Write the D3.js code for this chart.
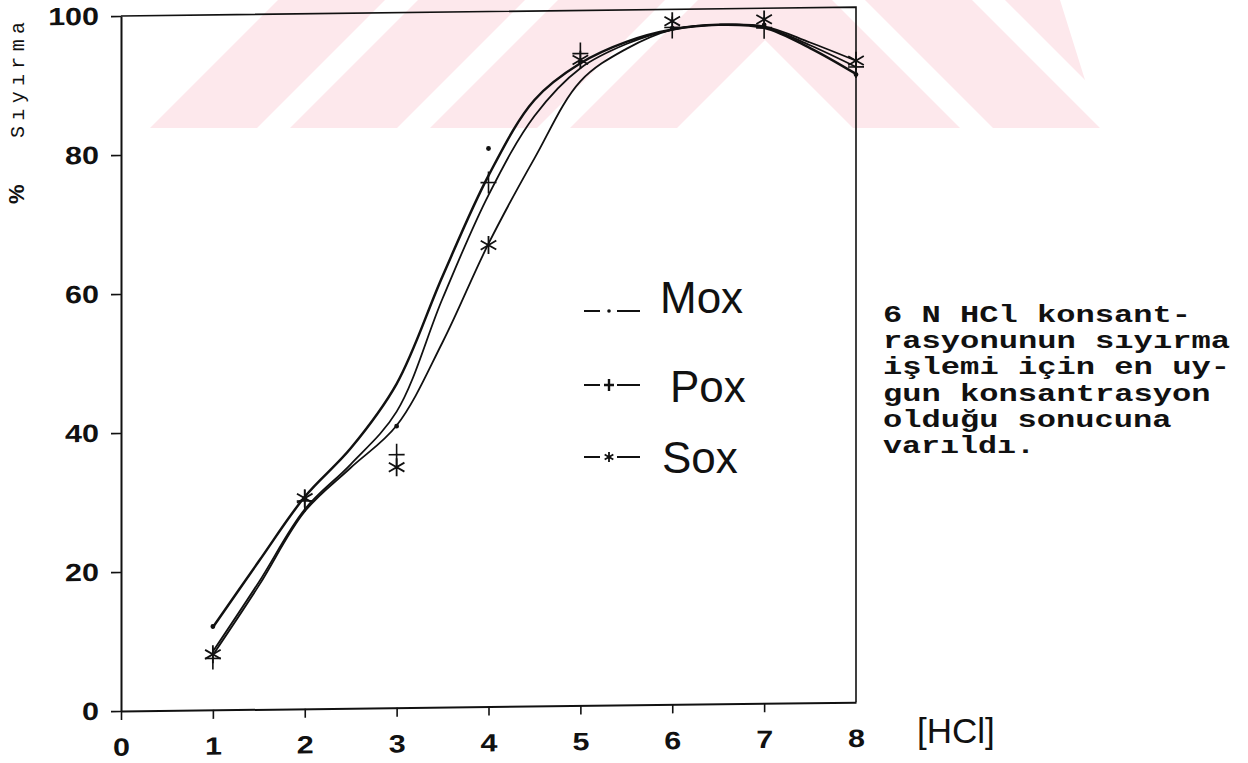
<!DOCTYPE html>
<html>
<head>
<meta charset="utf-8">
<script src="https://cdn.jsdelivr.net/npm/d3@7"></script>
<style>
  body { margin: 0; background: #ffffff; }
  svg { display: block; }
</style>
</head>
<body>
<svg id="chart" width="1248" height="763"></svg>
<script>
// HCl concentration (N) at which stripping was measured
const hclConc = [1, 2, 3, 4, 5, 6, 7, 8];
// % stripping, measured points
const moxPoints = [12.0, 30.2, 40.5, 80.3, 92.6, 97.3, 97.6, 90.3];
const poxPoints = [7.4, 29.9, 36.4, 75.4, 93.8, 97.4, 97.2, 91.4];
const soxPoints = [8.0, 30.3, 34.6, 66.4, 92.9, 98.3, 98.4, 92.3];
// hand-smoothed trend curves
const fitX   = [1, 1.5, 2, 2.5, 3, 3.5, 4, 4.5, 5, 5.5, 6, 6.5, 7, 7.5, 8];
const moxFit = [11.9, 21.3, 30.5, 37.4, 46.6, 62.0, 76.4, 87.2, 92.4, 95.4, 97.1, 97.7, 97.2, 94.2, 90.4];
const poxFit = [8.4, 18.3, 28.7, 35.1, 42.6, 58.8, 73.6, 84.9, 91.7, 95.1, 97.1, 97.7, 97.3, 94.6, 91.4];
const soxFit = [7.9, 17.8, 28.4, 34.6, 40.6, 52.5, 66.6, 78.8, 89.8, 94.4, 97.1, 97.7, 97.4, 95.0, 92.3];
// axes
const xTickValues = [0, 1, 2, 3, 4, 5, 6, 7, 8];
const yTickValues = [0, 20, 40, 60, 80, 100];
const seriesNames = ["Mox", "Pox", "Sox"];
const noteLines = [
  "6 N HCl konsant-",
  "rasyonunun sıyırma",
  "işlemi için en uy-",
  "gun konsantrasyon",
  "olduğu sonucuna",
  "varıldı."
];

const svg = d3.select("#chart");
const ink = "#111";

// --- watermark stripes (nested chevrons, only their lower part is on the page)
const wm = svg.append("g");
wm.append("clipPath").attr("id", "wmclip")
  .append("path").attr("d", "M0,0H1060L1100,128H0Z");
const cx = 765, L = 900;
const bands = [[278, 385], [418, 525], [558, 665], [698, 805]];
wm.append("g").attr("clip-path", "url(#wmclip)")
  .selectAll("path").data(bands).join("path")
  .attr("fill", "#fde8ec")
  .attr("d", ([a, b]) => {
    const p = [
      [cx - L, a - cx + L], [cx, a - cx], [cx + L, a - cx + L],
      [cx + L, b - cx + L], [cx, b - cx], [cx - L, b - cx + L]
    ];
    return "M" + p.map(q => q.join(",")).join("L") + "Z";
  });

// --- plot area (the printed page is slightly sheared)
const x = d3.scaleLinear().domain([0, 8]).range([121, 856]);
const y = d3.scaleLinear().domain([0, 100]).range([711, 16]);
const k = -0.012;
const plot = svg.append("g")
  .attr("transform", `matrix(1,${k},0,1,0,${-k * 120})`);

// frame: top and right edges
plot.append("path")
  .attr("d", `M${x(0)},${y(100)}H${x(8)}V${y(0)}`)
  .attr("fill", "none").attr("stroke", ink).attr("stroke-width", 1.6);

// y axis
const yAxis = plot.append("g")
  .attr("transform", `translate(${x(0)},0)`)
  .call(d3.axisLeft(y).tickValues(yTickValues).tickSize(10).tickSizeOuter(0).tickPadding(12));
// x axis
const xAxis = plot.append("g")
  .attr("transform", `translate(0,${y(0)})`)
  .call(d3.axisBottom(x).tickValues(xTickValues).tickSize(9).tickSizeOuter(0).tickPadding(18));

// wide, heavy numerals
const widen = 1.22;
[yAxis, xAxis].forEach(g => {
  g.select(".domain").attr("stroke", ink).attr("stroke-width", 2);
  g.selectAll(".tick line").attr("stroke", ink).attr("stroke-width", 1.6);
  g.selectAll(".tick text")
    .attr("fill", ink)
    .style("font-family", "'Liberation Sans', Arial, sans-serif")
    .style("font-weight", "bold")
    .style("font-size", "25px");
});
yAxis.selectAll(".tick text")
  .attr("x", -22 / widen)
  .attr("transform", `scale(${widen},1)`);
xAxis.selectAll(".tick text")
  .attr("transform", `scale(${widen},1)`);
xAxis.selectAll(".tick").filter(d => d === 8).select("line").remove();

// trend curves
const line = d3.line()
  .x((d, i) => x(fitX[i]))
  .y(d => y(d))
  .curve(d3.curveCatmullRom.alpha(0.5));
[[moxFit, 2.5], [poxFit, 1.8], [soxFit, 1.8]].forEach(([vals, w]) => {
  plot.append("path")
    .attr("d", line(vals))
    .attr("fill", "none").attr("stroke", ink)
    .attr("stroke-width", w).attr("stroke-linecap", "round");
});

// marker shapes
function plusPath(r, h) { return `M${-r},0H${r}M0,${-h}V${h}`; }
function starPath(r) {
  const a = r * Math.cos(Math.PI / 6), b = r * Math.sin(Math.PI / 6);
  return `M0,${-r}V${r}M${-a},${-b}L${a},${b}M${-a},${b}L${a},${-b}`;
}

plot.append("g").selectAll("circle").data(moxPoints).join("circle")
  .attr("cx", (d, i) => x(hclConc[i])).attr("cy", d => y(d))
  .attr("r", 2.4).attr("fill", ink);

plot.append("g").selectAll("path").data(poxPoints).join("path")
  .attr("transform", (d, i) => `translate(${x(hclConc[i])},${y(d)})`)
  .attr("d", plusPath(8, 11))
  .attr("stroke", ink).attr("stroke-width", 1.6).attr("fill", "none");

plot.append("g").selectAll("path").data(soxPoints).join("path")
  .attr("transform", (d, i) => `translate(${x(hclConc[i])},${y(d)})`)
  .attr("d", starPath(9))
  .attr("stroke", ink).attr("stroke-width", 1.8).attr("fill", "none");

// axis titles
svg.append("text")
  .attr("transform", "translate(24,138) rotate(-90)")
  .attr("textLength", 116).attr("lengthAdjust", "spacing")
  .style("font-family", "'Liberation Mono', monospace")
  .style("font-size", "20px").attr("fill", ink)
  .text("Sıyırma");
svg.append("text")
  .attr("transform", "translate(24,204) rotate(-90)")
  .style("font-family", "'Liberation Sans', Arial, sans-serif")
  .style("font-size", "22px").style("font-weight", "bold").attr("fill", ink)
  .text("%");
svg.append("text")
  .attr("x", 917).attr("y", 743)
  .style("font-family", "'Liberation Sans', Arial, sans-serif")
  .style("font-size", "35px").attr("fill", ink)
  .text("[HCl]");

// legend
const legendRows = [
  { name: seriesNames[0], y: 311, tx: 660, ty: 313, mark: "dot" },
  { name: seriesNames[1], y: 385, tx: 670, ty: 402, mark: "plus" },
  { name: seriesNames[2], y: 457, tx: 662, ty: 473, mark: "star" }
];
const lg = svg.append("g");
legendRows.forEach(r => {
  const g = lg.append("g");
  g.append("path").attr("d", `M584,${r.y}H600M617,${r.y}H640`)
    .attr("stroke", ink).attr("stroke-width", 2.2);
  if (r.mark === "dot") {
    g.append("circle").attr("cx", 609).attr("cy", r.y).attr("r", 1.8).attr("fill", ink);
  } else if (r.mark === "plus") {
    g.append("path").attr("transform", `translate(609,${r.y})`).attr("d", plusPath(5, 6))
      .attr("stroke", ink).attr("stroke-width", 2.4);
  } else {
    g.append("path").attr("transform", `translate(609,${r.y})`).attr("d", starPath(5))
      .attr("stroke", ink).attr("stroke-width", 1.8);
  }
  g.append("text").attr("x", r.tx).attr("y", r.ty)
    .style("font-family", "'Liberation Sans', Arial, sans-serif")
    .style("font-size", "44px").attr("fill", ink)
    .text(r.name);
});

// side note, monospaced and widened to the typed pitch
const pitch = 19.5;
svg.append("g").selectAll("text").data(noteLines).join("text")
  .attr("x", 883).attr("y", (d, i) => 322 + i * 26.2)
  .attr("textLength", d => d.length * pitch - 4)
  .attr("lengthAdjust", "spacingAndGlyphs")
  .style("font-family", "'Liberation Mono', 'DejaVu Sans Mono', monospace")
  .style("font-size", "23px").style("font-weight", "bold")
  .attr("fill", ink)
  .text(d => d);
</script>
</body>
</html>
